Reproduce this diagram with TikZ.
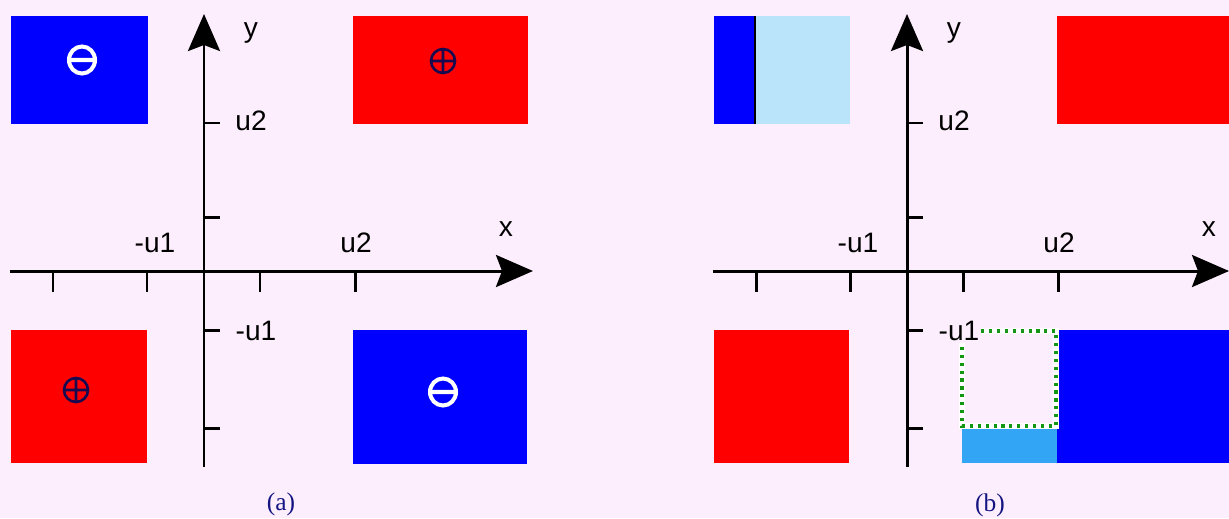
\documentclass[tikz,border=0pt]{standalone}
\usepackage{fontspec}
\setmainfont{Liberation Sans}
\newfontfamily\capfont{Liberation Serif}
\usetikzlibrary{arrows.meta}
\definecolor{bgpink}{RGB}{253,238,253}
\definecolor{posred}{RGB}{255,0,0}
\definecolor{negblue}{RGB}{0,0,255}
\definecolor{paleblue}{RGB}{185,228,250}
\definecolor{midblue}{RGB}{50,165,245}
\definecolor{dotgreen}{RGB}{20,150,20}
\definecolor{signnavy}{RGB}{25,10,80}
\definecolor{capnavy}{RGB}{20,20,130}

\begin{document}
\begin{tikzpicture}[x=0.02cm,y=-0.02cm,
    axis/.style={line width=1.7pt,-{Stealth[length=0.74cm,width=0.64cm,inset=0.12cm]}},
    tickmark/.style={line width=1.7pt},
    lbl/.style={font=\fontsize{16}{18}\selectfont,fill=bgpink,inner sep=1pt},
    captext/.style={font=\capfont\fontsize{14.5}{16}\selectfont,text=capnavy},
    pluscharge/.pic={\draw[signnavy,line width=1.5pt] (0,0) circle (12) (-12,0) -- (12,0) (0,-12) -- (0,12);},
    minuscharge/.pic={\draw[white,line width=2.3pt] (0,0) circle[x radius=13,y radius=13.5] (-12,0) -- (12,0);}]
  \fill[bgpink] (0,0) rectangle (1229,518);
  \useasboundingbox (0,0) rectangle (1229,518);

  % panel (a)
  \fill[negblue] (11,16) rectangle (148,124);
  \fill[posred] (353,16) rectangle (528,124);
  \fill[posred] (11,330) rectangle (147,463);
  \fill[negblue] (353,330) rectangle (527,464);
  \pic at (82,60) {minuscharge};
  \pic at (443,61) {pluscharge};
  \pic at (76,390) {pluscharge};
  \pic at (443,392) {minuscharge};

  % panel (b)
  \fill[negblue] (714,16) rectangle (755,124);
  \fill[paleblue] (755,16) rectangle (850,124);
  \draw[line width=1pt] (755,16) -- (755,124);
  \fill[posred] (1057,16) rectangle (1229,124);
  \fill[posred] (714,330) rectangle (849,463);
  \fill[negblue] (1057,330) rectangle (1229,463);
  \fill[midblue] (962,425) rectangle (1057,463);
  \draw[white,line width=3pt] (962,331) rectangle (1056,426);
  \draw[dotgreen,line width=1.8pt,dash pattern=on 1.8pt off 2.7pt] (962,331) rectangle (1056,426);

  % axes of both panels
  \foreach \d/\xe in {0/533,703/1229}{
    \coordinate (xs\d) at ({10+\d},271);
    \coordinate (xe\d) at (\xe,271);
    \coordinate (ys\d) at ({204+\d},467);
    \coordinate (ye\d) at ({204+\d},14);
    \draw[axis] (xs\d) -- (xe\d);
    \draw[axis] (ys\d) -- (ye\d);
    \foreach \t in {53,147,260,355}
      \draw[tickmark] ({\t+\d},271) -- ({\t+\d},292);
    \foreach \t in {123,217,330,428}
      \draw[tickmark] ({204+\d},\t) -- ({220+\d},\t);
    \node[lbl] (ylab\d) at ({251+\d},33) {y};
    \node[lbl] (xlab\d) at ({506+\d},229) {x};
    \node[lbl] (u2y\d) at ({251+\d},121) {u2};
    \node[lbl] (u1y\d) at ({256+\d},331) {-u1};
    \node[lbl] (u1x\d) at ({155+\d},243) {-u1};
    \node[lbl] (u2x\d) at ({356+\d},243) {u2};
  }

  \node[captext] (capa) at (281,504) {(a)};
  \node[captext] (capb) at (990,505) {(b)};
\end{tikzpicture}
\end{document}
